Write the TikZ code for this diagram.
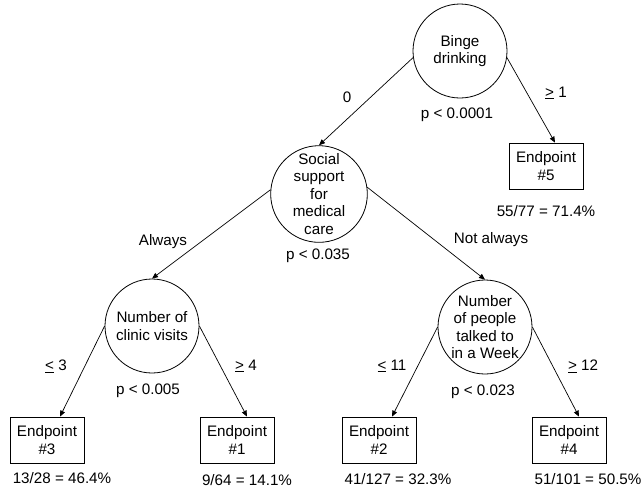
\documentclass[tikz,border=0pt]{standalone}
\usepackage{fontspec}
\setmainfont{Liberation Sans}
\usetikzlibrary{arrows.meta}
\begin{document}
\begin{tikzpicture}[x=1pt,y=-1pt,
  every node/.style={font=\fontsize{15.2}{17.5}\selectfont, inner sep=0pt},
  split/.style={draw, circle, minimum size=94pt, align=center, line width=0.8pt},
  endbox/.style={draw, rectangle, minimum width=74pt, minimum height=46pt, align=center, line width=0.8pt},
  lbl/.style={},
  conn/.style={line width=0.7pt, -{Triangle[length=6pt,width=5pt]}}]
\useasboundingbox (0,0) rectangle (644,491);
% splits
\node[split] (binge) at (460,51) {Binge\\drinking};
\node[split] (social) at (319,194) {Social\\support\\for\\medical\\care};
\node[split] (clinic) at (152,326) {Number of\\clinic visits};
\node[split] (people) at (485,327) {Number\\of people\\talked to\\in a Week};
% endpoints
\node[endbox] (ep5) at (546,166) {Endpoint\\\#5};
\node[endbox] (ep3) at (47,440) {Endpoint\\\#3};
\node[endbox] (ep1) at (237,440) {Endpoint\\\#1};
\node[endbox] (ep2) at (379,440) {Endpoint\\\#2};
\node[endbox] (ep4) at (569,440) {Endpoint\\\#4};
% connectors
\draw[conn] (binge.188) -- (social.north);
\draw[conn] (binge.-8) -- ([xshift=9pt]ep5.north);
\draw[conn] (social.175) -- (clinic.north);
\draw[conn] (social.8) -- (people.north);
\draw[conn] (clinic.west) -- ([xshift=13pt]ep3.north);
\draw[conn] (clinic.east) -- ([xshift=10pt]ep1.north);
\draw[conn] (people.west) -- ([xshift=13pt]ep2.north);
\draw[conn] (people.east) -- ([xshift=10pt]ep4.north);
% labels
\node[lbl] (l0) at (347,97) {0};
\node[lbl] (p1) at (457,115) {p < 0.0001};
\node[lbl] (g1) at (556,93) {\underline{>} 1};
\node[lbl] (r5) at (546,211) {55/77 = 71.4\%};
\node[lbl] (alw) at (163,242) {Always};
\node[lbl] (p2) at (318,256) {p < 0.035};
\node[lbl] (nalw) at (491,240) {Not always};
\node[lbl] (le3) at (56,366) {\underline{<} 3};
\node[lbl] (ge4) at (246,366) {\underline{>} 4};
\node[lbl] (p3) at (148,391) {p < 0.005};
\node[lbl] (le11) at (392,366) {\underline{<} 11};
\node[lbl] (ge12) at (583,366) {\underline{>} 12};
\node[lbl] (p4) at (483,392) {p < 0.023};
\node[lbl] (r3) at (62,478) {13/28 = 46.4\%};
\node[lbl] (r1) at (247,480) {9/64 = 14.1\%};
\node[lbl] (r2) at (398,479) {41/127 = 32.3\%};
\node[lbl] (r4) at (588,479) {51/101 = 50.5\%};
\end{tikzpicture}
\end{document}
